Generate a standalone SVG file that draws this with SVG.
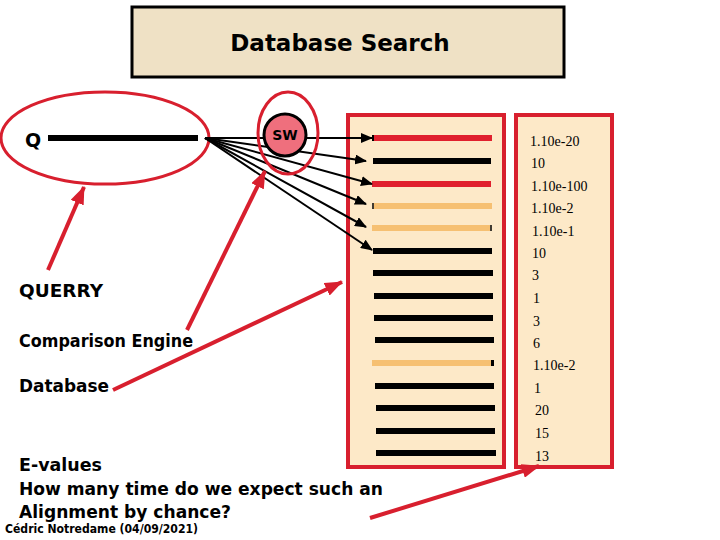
<svg xmlns="http://www.w3.org/2000/svg" width="720" height="540" viewBox="0 0 720 540">
<style>
.comic{font-family:"DejaVu Sans","Liberation Sans",sans-serif;font-weight:bold;fill:#000}
.num{font-family:"Liberation Serif","DejaVu Serif",serif;font-size:14px;fill:#000}
.red{stroke:#d81f2e;fill:none}
.panel{fill:#fde9c8;stroke:#d81f2e;stroke-width:4}
.fan{stroke:#000;stroke-width:2;fill:none}
.bar{stroke-width:6;fill:none}
</style>
<defs>
<marker id="ah" markerUnits="userSpaceOnUse" markerWidth="12" markerHeight="10" refX="11" refY="5" orient="auto">
<path d="M0,0 L12,5 L0,10 Z" fill="#000"/>
</marker>
<marker id="rh" markerUnits="userSpaceOnUse" markerWidth="18" markerHeight="14" refX="17" refY="7" orient="auto">
<path d="M0,0 L18,7 L0,14 Z" fill="#d81f2e"/>
</marker>
</defs>
<rect width="720" height="540" fill="#fff"/>

<g id="title">
<rect x="132" y="7" width="432" height="70" fill="#efe1c5" stroke="#000" stroke-width="3"/>
<text class="comic" x="340" y="51" font-size="23" text-anchor="middle">Database Search</text>
</g>

<g id="query">
<ellipse class="red" cx="105" cy="138" rx="104" ry="46" stroke-width="3"/>
<text class="comic" x="25" y="147" font-size="19">Q</text>
<line x1="48" y1="138" x2="198" y2="138" stroke="#000" stroke-width="6"/>
</g>

<g id="database">
<rect class="panel" x="348" y="115" width="156" height="352"/>
<line class="bar" x1="372" y1="138" x2="492" y2="138" stroke="#e0202e"/>
<line class="bar" x1="372" y1="138" x2="374" y2="138" stroke="#000"/>
<line class="bar" x1="373" y1="161" x2="491" y2="161" stroke="#000"/>
<line class="bar" x1="372" y1="184" x2="491" y2="184" stroke="#e0202e"/>
<line class="bar" x1="374" y1="206" x2="492" y2="206" stroke="#f6c072"/>
<line x1="373" y1="203" x2="373" y2="209" stroke="#000" stroke-width="1.5"/>
<line class="bar" x1="372" y1="228" x2="490" y2="228" stroke="#f6c072"/>
<line x1="491" y1="225" x2="491" y2="231" stroke="#000" stroke-width="1.5"/>
<line class="bar" x1="373" y1="251" x2="492" y2="251" stroke="#000"/>
<line class="bar" x1="373" y1="273" x2="493" y2="273" stroke="#000"/>
<line class="bar" x1="374" y1="296" x2="493" y2="296" stroke="#000"/>
<line class="bar" x1="374" y1="318" x2="493" y2="318" stroke="#000"/>
<line class="bar" x1="375" y1="340" x2="494" y2="340" stroke="#000"/>
<line class="bar" x1="372" y1="363" x2="491" y2="363" stroke="#f6c072"/>
<line class="bar" x1="491" y1="363" x2="494" y2="363" stroke="#000"/>
<line class="bar" x1="375" y1="386" x2="494" y2="386" stroke="#000"/>
<line class="bar" x1="376" y1="408" x2="495" y2="408" stroke="#000"/>
<line class="bar" x1="376" y1="431" x2="495" y2="431" stroke="#000"/>
<line class="bar" x1="376" y1="453" x2="496" y2="453" stroke="#000"/>
</g>

<g id="evalues">
<rect class="panel" x="516" y="115" width="96" height="352"/>
<text class="num" x="530" y="146">1.10e-20</text>
<text class="num" x="531" y="168">10</text>
<text class="num" x="531" y="191">1.10e-100</text>
<text class="num" x="531" y="213">1.10e-2</text>
<text class="num" x="532" y="236">1.10e-1</text>
<text class="num" x="532" y="258">10</text>
<text class="num" x="532" y="280">3</text>
<text class="num" x="533" y="303">1</text>
<text class="num" x="533" y="326">3</text>
<text class="num" x="533" y="348">6</text>
<text class="num" x="533" y="370">1.10e-2</text>
<text class="num" x="534" y="393">1</text>
<text class="num" x="535" y="415">20</text>
<text class="num" x="535" y="438">15</text>
<text class="num" x="535" y="461">13</text>
</g>

<g id="connectors">
<line class="fan" x1="205" y1="138" x2="372" y2="138" marker-end="url(#ah)"/>
<line class="fan" x1="205" y1="138" x2="366" y2="161" marker-end="url(#ah)"/>
<line class="fan" x1="205" y1="138" x2="372" y2="184" marker-end="url(#ah)"/>
<line class="fan" x1="205" y1="138" x2="366" y2="204" marker-end="url(#ah)"/>
<line class="fan" x1="205" y1="138" x2="366" y2="227" marker-end="url(#ah)"/>
<line class="fan" x1="205" y1="138" x2="372" y2="250" marker-end="url(#ah)"/>
</g>

<g id="sw">
<ellipse class="red" cx="288" cy="133" rx="30" ry="41" stroke-width="3"/>
<circle cx="285" cy="135" r="21" fill="#ef6f7d" stroke="#000" stroke-width="3"/>
<text class="comic" x="285" y="140" font-size="14" text-anchor="middle" fill="#3a0a10">SW</text>
</g>

<g id="labels">
<text class="comic" x="19" y="297" font-size="18" textLength="84" lengthAdjust="spacingAndGlyphs">QUERRY</text>
<text class="comic" x="19" y="347" font-size="18" textLength="174" lengthAdjust="spacingAndGlyphs">Comparison Engine</text>
<text class="comic" x="19" y="392" font-size="18" textLength="90" lengthAdjust="spacingAndGlyphs">Database</text>
<text class="comic" x="19" y="471" font-size="18" textLength="83" lengthAdjust="spacingAndGlyphs">E-values</text>
<text class="comic" x="19" y="495" font-size="18" textLength="364" lengthAdjust="spacingAndGlyphs">How many time do we expect such an</text>
<text class="comic" x="19" y="518" font-size="18" textLength="212" lengthAdjust="spacingAndGlyphs">Alignment by chance?</text>
<text class="comic" x="5" y="533" font-size="12" textLength="193" lengthAdjust="spacingAndGlyphs">Cédric Notredame (04/09/2021)</text>
</g>

<g id="pointers">
<line class="red" x1="48" y1="270" x2="84" y2="187" stroke-width="4" marker-end="url(#rh)"/>
<line class="red" x1="187" y1="330" x2="265" y2="171" stroke-width="4" marker-end="url(#rh)"/>
<line class="red" x1="113" y1="390" x2="342" y2="282" stroke-width="4" marker-end="url(#rh)"/>
<line class="red" x1="370" y1="518" x2="539" y2="466" stroke-width="4" marker-end="url(#rh)"/>
</g>
</svg>
